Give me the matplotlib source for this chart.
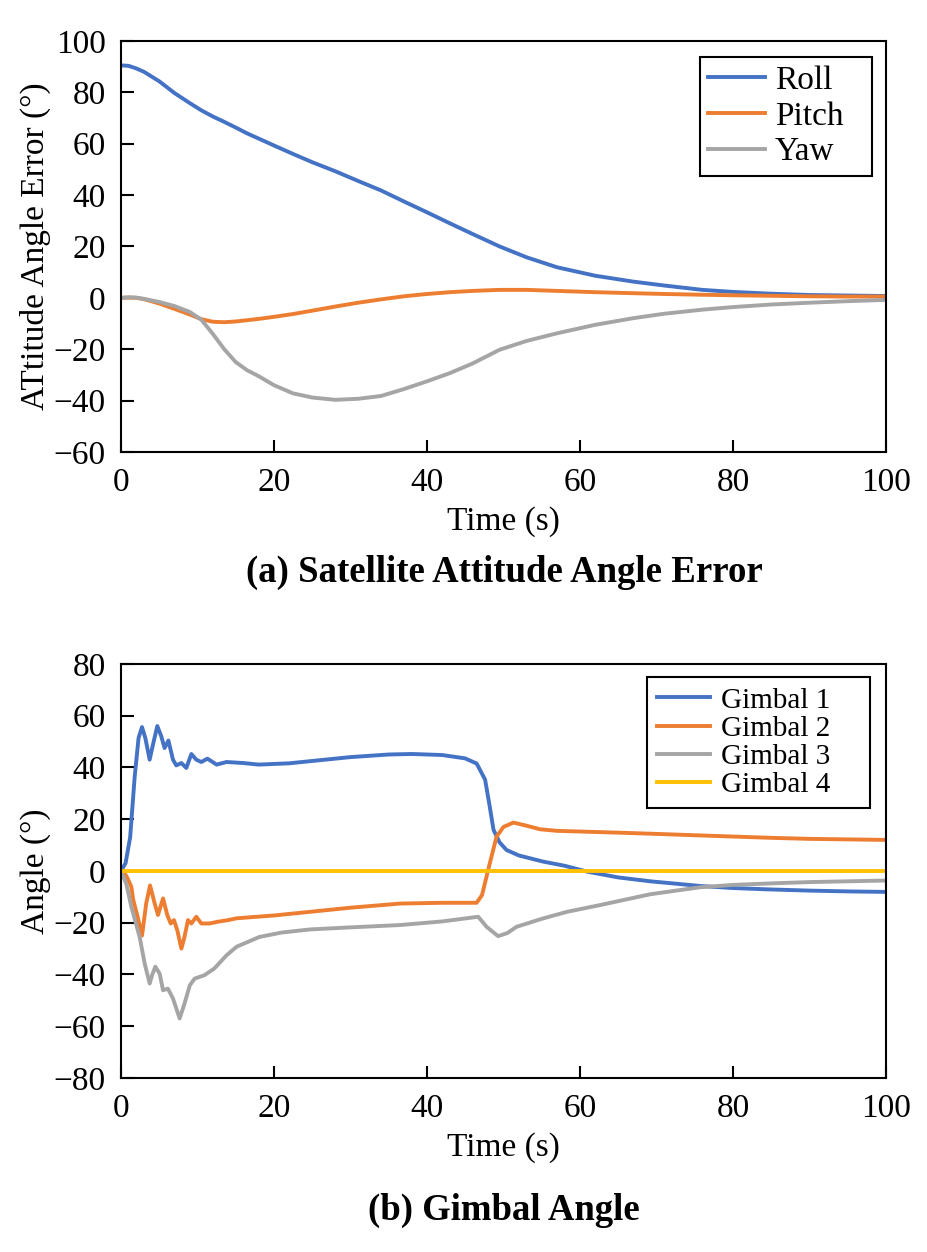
import matplotlib
matplotlib.use("Agg")
import matplotlib.pyplot as plt

plt.rcParams['font.family'] = ['Liberation Serif', 'DejaVu Serif']

# colores tipo Office
c_azul = '#4472C4'
c_naranja = '#ED7D31'
c_gris = '#A5A5A5'
c_amarillo = '#FFC000'

# (a) error de actitud
t_a = [0, 1, 2, 3, 5, 7, 9, 10.5, 12, 13.5, 15, 16.5, 18, 20, 22.5, 25, 28, 31, 34, 37,
       40, 43, 46, 49.5, 53, 57, 62, 67, 71, 76, 80, 85, 90, 95, 100]
roll = [90.5, 90.3, 89.3, 88, 84.3, 79.7, 75.8, 73, 70.6, 68.5, 66.3, 64, 62, 59.3, 56, 52.8,
        49.3, 45.5, 41.8, 37.5, 33.3, 29, 24.8, 20, 15.8, 11.9, 8.6, 6.3, 4.8, 3.1, 2.3, 1.6,
        1.1, 0.9, 0.7]
pitch = [0, 0.1, 0, -0.5, -2.2, -4.3, -6.5, -8.3, -9.3, -9.5, -9.2, -8.7, -8.2, -7.4, -6.3,
         -5, -3.4, -1.9, -0.6, 0.6, 1.5, 2.2, 2.7, 3.1, 3.1, 2.7, 2.2, 1.8, 1.5, 1.2, 1.0, 0.8,
         0.6, 0.5, 0.5]
yaw = [0, 0.2, 0.1, -0.4, -1.6, -3.2, -5.5, -8.5, -14, -20, -25, -28.2, -30.5, -34, -37.2,
       -38.8, -39.7, -39.3, -38.2, -35.5, -32.5, -29.3, -25.5, -20.2, -16.8, -13.8, -10.5,
       -7.9, -6.2, -4.6, -3.6, -2.6, -1.9, -1.3, -0.8]

# (b) angulos de gimbal
t_g1 = [0, 0.6, 1.2, 1.78, 2.3, 2.75, 3.18, 3.75, 4.18, 4.75, 5.27, 5.7, 6.2, 6.8, 7.23, 7.9,
        8.54, 9.2, 9.85, 10.5, 11.3, 12.5, 13.8, 16, 18, 22, 25, 30, 35, 38, 42, 45, 46.5,
        47.6, 48.2, 48.7, 49.5, 50.4, 52, 55.2, 58, 61, 65, 69.2, 75.7, 80, 84.4, 90, 95, 100]
g1 = [0, 3, 13, 36, 51.4, 55.6, 51.4, 43, 48.8, 56, 52, 47.5, 50.4, 43, 40.8, 41.7, 39.8,
      45.2, 43, 42.1, 43.4, 41.1, 42.1, 41.7, 41.1, 41.6, 42.5, 44, 45, 45.2, 44.8, 43.5,
      41.5, 35.3, 25, 15.9, 11, 8.1, 6, 3.6, 2, -0.3, -2.5, -4, -5.8, -6.6, -7.1, -7.6, -7.9,
      -8.1]

t_g2 = [0, 0.3, 0.8, 1.35, 1.6, 2.2, 2.75, 3.3, 3.8, 4.4, 4.84, 5.5, 6.05, 6.5, 6.93, 7.36,
        7.9, 8.3, 8.76, 9.2, 9.85, 10.5, 11.6, 12.7, 14, 15.1, 20, 24.7, 30, 36.5, 42, 46.5,
        47.2, 48, 49.1, 50, 51.3, 53, 54.8, 57, 60.4, 65, 69.2, 75, 80, 85, 90, 95, 100]
g2 = [0, 0, -2.5, -6.1, -11.2, -18, -25, -12.5, -5.6, -12.5, -17, -10.6, -17, -20.3, -19,
      -22.9, -30, -25.5, -19, -20.3, -17.7, -20.3, -20.3, -19.6, -19, -18.3, -17.2, -15.8,
      -14.2, -12.6, -12.3, -12.3, -9.3, 0.4, 13.3, 17, 18.7, 17.5, 16.1, 15.5, 15.2, 14.8,
      14.4, 13.8, 13.3, 12.8, 12.4, 12.2, 12]

t_g3 = [0, 0.26, 0.7, 1.35, 2.44, 3.1, 3.75, 4.1, 4.49, 5.06, 5.5, 6.14, 6.8, 7.67, 8.3, 9,
        9.63, 10.9, 12.2, 13.8, 15.1, 18.1, 21, 24.7, 30, 36.5, 42, 46.7, 47.8, 49.3, 50.5,
        51.7, 55, 58.3, 62.6, 69.2, 75.7, 80, 85, 90, 95, 100]
g3 = [0, -1.9, -5, -13.8, -25.5, -35.8, -43.5, -40, -37, -39.7, -46.1, -45.5, -49.3, -57,
      -51.3, -44.2, -41.6, -40.3, -37.7, -32.6, -29.3, -25.5, -23.8, -22.6, -21.8, -20.9,
      -19.5, -17.7, -21.6, -25.2, -24, -21.6, -18.5, -15.8, -13.2, -9, -6.3, -5.4, -4.8,
      -4.3, -4, -3.7]

t_g4 = [0, 100]
g4 = [0, 0]

fs = 24
lw = 2.8

fig = plt.figure(figsize=(9.27, 12.52), dpi=100)
ax1 = fig.add_axes([0.1305, 0.639, 0.8252, 0.3283])
ax2 = fig.add_axes([0.1305, 0.139, 0.8252, 0.3307])

ax1.plot(t_a, roll, color=c_azul, lw=lw, label='Roll', solid_joinstyle='round')
ax1.plot(t_a, pitch, color=c_naranja, lw=lw, label='Pitch', solid_joinstyle='round')
ax1.plot(t_a, yaw, color=c_gris, lw=lw, label='Yaw', solid_joinstyle='round')
ax1.set_xlim(0, 100)
ax1.set_ylim(-60, 100)
ax1.set_yticks(range(-60, 101, 20))
ax1.set_xlabel('Time (s)', fontsize=fs, labelpad=6)
ax1.set_ylabel('ATtitude Angle Error (°)', fontsize=fs, labelpad=2)
leg1 = ax1.legend(loc='upper left', bbox_to_anchor=(0.757, 0.5, 0.2248, 0.461),
                  mode='expand', borderaxespad=0, fontsize=fs, frameon=True,
                  fancybox=False, edgecolor='black', framealpha=1, handlelength=1.7,
                  labelspacing=0.16, borderpad=0.25, handletextpad=0.3)
leg1.get_frame().set_linewidth(1.5)

ax2.plot(t_g1, g1, color=c_azul, lw=lw, label='Gimbal 1', solid_joinstyle='round')
ax2.plot(t_g2, g2, color=c_naranja, lw=lw, label='Gimbal 2', solid_joinstyle='round')
ax2.plot(t_g3, g3, color=c_gris, lw=lw, label='Gimbal 3', solid_joinstyle='round')
ax2.plot(t_g4, g4, color=c_amarillo, lw=lw, label='Gimbal 4')
ax2.set_xlim(0, 100)
ax2.set_ylim(-80, 80)
ax2.set_yticks(range(-80, 81, 20))
ax2.set_xlabel('Time (s)', fontsize=fs, labelpad=6)
ax2.set_ylabel('Angle (°)', fontsize=fs, labelpad=2)
leg2 = ax2.legend(loc='upper left', bbox_to_anchor=(0.6876, 0.5, 0.2915, 0.4686),
                  mode='expand', borderaxespad=0, fontsize=21, frameon=True,
                  fancybox=False, edgecolor='black', framealpha=1, handlelength=1.8,
                  labelspacing=0.06, borderpad=0.35, handletextpad=0.4)
leg2.get_frame().set_linewidth(1.5)

for ax in (ax1, ax2):
    ax.set_xticks(range(0, 101, 20))
    ax.tick_params(direction='in', length=9, width=1.5, labelsize=fs, pad=11,
                   top=False, right=False)
    for s in ax.spines.values():
        s.set_linewidth(1.5)

fig.text(0.544, 0.5425, '(a) Satellite Attitude Angle Error', ha='center', va='center',
         fontsize=26.5, fontweight='bold')
fig.text(0.544, 0.0335, '(b) Gimbal Angle', ha='center', va='center',
         fontsize=26.5, fontweight='bold')

fig.savefig('out.png', dpi=100)
